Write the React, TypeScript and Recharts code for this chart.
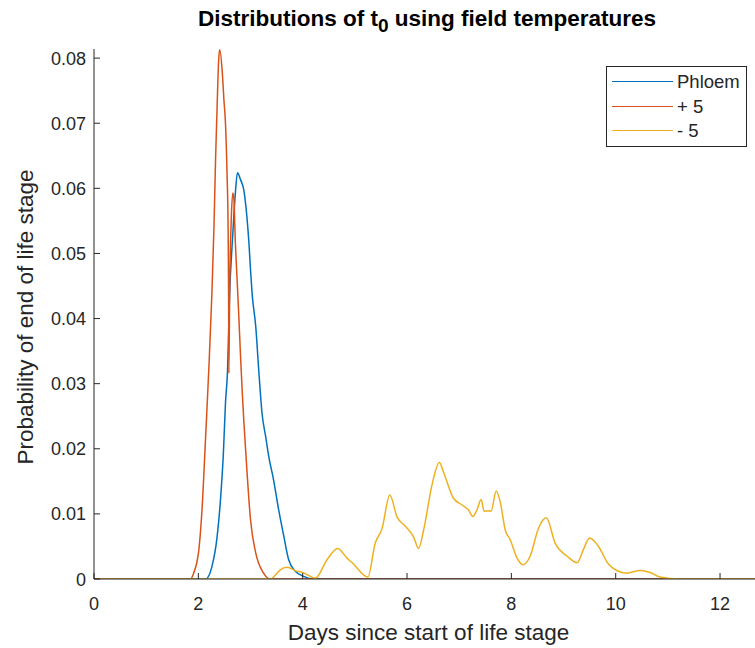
import React from 'react';
import { LineChart, Line, XAxis, YAxis, Legend } from 'recharts';

const FONT = '"Liberation Sans", Arial, Helvetica, sans-serif';
const INK = '#262626';

const xTicks = [0, 2, 4, 6, 8, 10, 12];
const xTickLabels = ['0', '2', '4', '6', '8', '10', '12'];
const yTicks = [0, 0.01, 0.02, 0.03, 0.04, 0.05, 0.06, 0.07, 0.08];
const yTickLabels = ['0', '0.01', '0.02', '0.03', '0.04', '0.05', '0.06', '0.07', '0.08'];
const xDomain: [number, number] = [0, 12.67];
const yDomain: [number, number] = [0, 0.0814];

const seriesNames = ['Phloem', '+ 5', '- 5'];
const seriesColors = ['#0072BD', '#D95319', '#EDB120'];

const phloemDays = [0, 2.14, 2.26, 2.36, 2.42, 2.48, 2.52, 2.56, 2.6, 2.65, 2.68, 2.71, 2.75, 2.81, 2.87, 2.93, 2.97, 3.0, 3.03, 3.1, 3.16, 3.22, 3.29, 3.35, 3.44, 3.54, 3.64, 3.73, 3.86, 4.02, 4.2, 12.67];
const phloemProb = [0, 0, 0.0019, 0.0065, 0.0117, 0.0193, 0.027, 0.0321, 0.0439, 0.0516, 0.0557, 0.0593, 0.0624, 0.0613, 0.0598, 0.0557, 0.0516, 0.0475, 0.0439, 0.0388, 0.0318, 0.0255, 0.0219, 0.0188, 0.0153, 0.0106, 0.0065, 0.003, 0.0012, 0.0004, 0, 0];

const plus5Days = [0, 1.85, 1.91, 2.01, 2.07, 2.14, 2.2, 2.26, 2.3, 2.33, 2.36, 2.39, 2.41, 2.46, 2.49, 2.52, 2.55, 2.57, 2.58, 2.585, 2.6, 2.63, 2.66, 2.68, 2.71, 2.74, 2.77, 2.81, 2.84, 2.87, 2.93, 3.0, 3.1, 3.25, 3.38, 12.67];
const plus5Prob = [0, 0, 0.0009, 0.0045, 0.0106, 0.0219, 0.0321, 0.0439, 0.0542, 0.0644, 0.0726, 0.0798, 0.0813, 0.0777, 0.0736, 0.07, 0.0623, 0.0542, 0.0439, 0.0316, 0.044, 0.055, 0.0593, 0.0585, 0.0516, 0.0465, 0.0414, 0.034, 0.029, 0.0245, 0.0168, 0.0091, 0.004, 0.0009, 0, 0];

const minus5Days = [0, 3.38, 3.51, 3.57, 3.7, 3.89, 3.96, 4.08, 4.24, 4.47, 4.67, 4.85, 4.95, 5.25, 5.39, 5.52, 5.67, 5.81, 5.97, 6.13, 6.22, 6.32, 6.48, 6.62, 6.7, 6.89, 7.05, 7.18, 7.26, 7.34, 7.42, 7.48, 7.56, 7.61, 7.71, 7.79, 7.88, 7.98, 8.11, 8.22, 8.36, 8.52, 8.67, 8.84, 9.07, 9.26, 9.38, 9.5, 9.67, 9.86, 10.02, 10.21, 10.47, 10.66, 10.85, 11.23, 12.67];
const minus5Prob = [0, 0, 0.0009, 0.0014, 0.0018, 0.0012, 0.0011, 0.0007, 0.0001, 0.003, 0.0047, 0.0032, 0.0025, 0.0003, 0.0055, 0.0077, 0.0129, 0.0095, 0.0081, 0.0064, 0.0047, 0.0076, 0.0145, 0.0179, 0.0164, 0.0124, 0.0114, 0.0106, 0.0096, 0.0106, 0.0122, 0.0104, 0.0105, 0.0104, 0.0135, 0.0117, 0.0076, 0.006, 0.0032, 0.0022, 0.0035, 0.0078, 0.0094, 0.0055, 0.0035, 0.0025, 0.0045, 0.0063, 0.005, 0.0023, 0.0013, 0.0009, 0.0013, 0.001, 0.0003, 0, 0];

const toPoints = (xs: number[], ys: number[]) => xs.map((x, i) => ({ day: x, prob: ys[i] }));
const seriesData = [
  toPoints(phloemDays, phloemProb),
  toPoints(plus5Days, plus5Prob),
  toPoints(minus5Days, minus5Prob),
];

const TICK_FS = 18;
const LABEL_FS = 22.5;

function BottomTick(props: any) {
  const { x, y, payload } = props;
  const i = xTicks.indexOf(payload.value);
  return (
    <g>
      <line x1={x} y1={y} x2={x} y2={y - 6} stroke={INK} strokeWidth={1} />
      <text x={x} y={y + 31} textAnchor="middle" fontFamily={FONT} fontSize={TICK_FS} fill={INK}>
        {i >= 0 ? xTickLabels[i] : String(payload.value)}
      </text>
    </g>
  );
}

function TopTick(props: any) {
  const { x, y } = props;
  return <line x1={x} y1={y} x2={x} y2={y + 6} stroke={INK} strokeWidth={1} />;
}

function LeftTick(props: any) {
  const { x, y, payload } = props;
  const i = yTicks.findIndex((t) => Math.abs(t - payload.value) < 1e-9);
  return (
    <g>
      <line x1={x} y1={y} x2={x + 6} y2={y} stroke={INK} strokeWidth={1} />
      <text x={x - 8} y={y + 6.5} textAnchor="end" fontFamily={FONT} fontSize={TICK_FS} fill={INK}>
        {i >= 0 ? yTickLabels[i] : String(payload.value)}
      </text>
    </g>
  );
}

function XLabel(props: any) {
  const vb = props.viewBox || { x: 94, y: 579, width: 661, height: 69 };
  return (
    <text x={vb.x + vb.width / 2 + 4} y={vb.y + 61} textAnchor="middle" fontFamily={FONT} fontSize={LABEL_FS} fill={INK}>
      Days since start of life stage
    </text>
  );
}

function YLabel(props: any) {
  const vb = props.viewBox || { x: 0, y: 49, width: 94, height: 530 };
  const cx = vb.x + 25;
  const cy = vb.y + vb.height / 2 + 3;
  return (
    <text x={cx} y={cy} transform={`rotate(-90, ${cx}, ${cy})`} textAnchor="middle" dominantBaseline="central" fontFamily={FONT} fontSize={LABEL_FS} fill={INK}>
      Probability of end of life stage
    </text>
  );
}

function LegendBox() {
  return (
    <div
      style={{
        width: 141,
        height: 81,
        boxSizing: 'border-box',
        border: `1px solid ${INK}`,
        background: '#fff',
        position: 'relative',
        fontFamily: FONT,
        fontSize: 18.5,
        color: INK,
      }}
    >
      {seriesNames.map((name, i) => (
        <div key={name} style={{ position: 'absolute', left: 0, top: 3 + i * 24.5, height: 24, width: '100%' }}>
          <div style={{ position: 'absolute', left: 5, top: 11, width: 61, height: 0, borderTop: `1.5px solid ${seriesColors[i]}` }} />
          <span style={{ position: 'absolute', left: 70, top: 1, lineHeight: '22px', whiteSpace: 'nowrap' }}>{name}</span>
        </div>
      ))}
    </div>
  );
}

export default function App() {
  return (
    <div style={{ position: 'absolute', left: 0, top: 0, width: 755, height: 648, background: '#fff', overflow: 'hidden' }}>
      <div
        style={{
          position: 'absolute',
          left: 94,
          width: 666,
          top: 4,
          textAlign: 'center',
          fontFamily: FONT,
          fontWeight: 'bold',
          fontSize: LABEL_FS,
          lineHeight: '30px',
          color: '#000',
          whiteSpace: 'nowrap',
          zIndex: 2,
        }}
      >
        Distributions of t
        <span style={{ position: 'relative', top: '0.32em', fontSize: '0.85em' }}>0</span> using field temperatures
      </div>
      <LineChart width={755} height={648} margin={{ top: 49, right: 0, bottom: 0, left: 0 }}>
        <XAxis
          xAxisId="b"
          dataKey="day"
          type="number"
          orientation="bottom"
          domain={xDomain}
          ticks={xTicks}
          interval={0}
          height={69}
          allowDataOverflow
          axisLine={{ stroke: INK, strokeWidth: 1 }}
          tickLine={false}
          tickSize={0}
          tickMargin={0}
          tick={<BottomTick />}
          label={<XLabel />}
        />
        <XAxis
          xAxisId="t"
          dataKey="day"
          type="number"
          orientation="top"
          domain={xDomain}
          ticks={xTicks}
          interval={0}
          height={0}
          allowDataOverflow
          axisLine={{ stroke: INK, strokeWidth: 1 }}
          tickLine={false}
          tickSize={0}
          tickMargin={0}
          tick={<TopTick />}
        />
        <YAxis
          type="number"
          orientation="left"
          width={94}
          domain={yDomain}
          ticks={yTicks}
          interval={0}
          allowDataOverflow
          axisLine={{ stroke: INK, strokeWidth: 1 }}
          tickLine={false}
          tickSize={0}
          tickMargin={0}
          tick={<LeftTick />}
          label={<YLabel />}
        />
        <Legend
          layout="vertical"
          align="center"
          verticalAlign="middle"
          wrapperStyle={{ top: 66, left: 606, width: 141, height: 81 }}
          content={<LegendBox />}
        />
        {seriesData.map((d, i) => (
          <Line
            key={seriesNames[i]}
            xAxisId="b"
            data={d}
            dataKey="prob"
            name={seriesNames[i]}
            type="monotone"
            stroke={seriesColors[i]}
            strokeWidth={1.5}
            dot={false}
            activeDot={false}
            isAnimationActive={false}
          />
        ))}
      </LineChart>
    </div>
  );
}
